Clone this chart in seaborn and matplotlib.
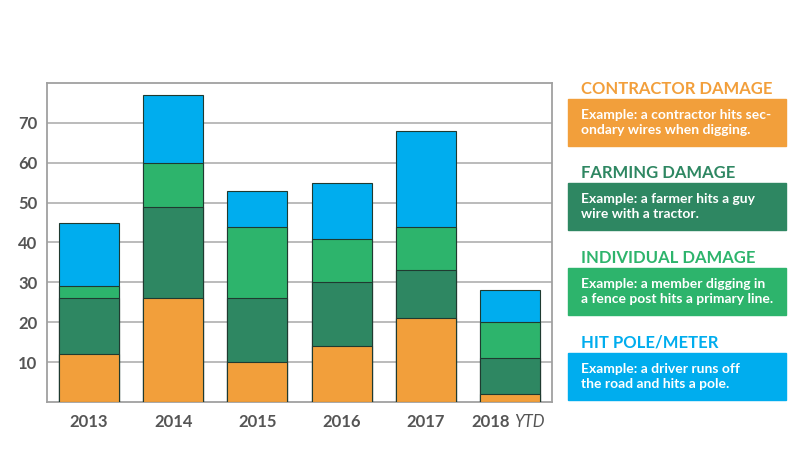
import numpy as np
import pandas as pd
import matplotlib.pyplot as plt
import seaborn as sns
from matplotlib.patches import Rectangle

sns.set_style("white")
plt.rcParams['font.family'] = ['Lato', 'DejaVu Sans']

# Data
years = ["2013", "2014", "2015", "2016", "2017", "2018"]
contractor = [12, 26, 10, 14, 21, 2]
farming = [14, 23, 16, 16, 12, 9]
individual = [3, 11, 18, 11, 11, 9]
hit_pole = [16, 17, 9, 14, 24, 8]

categories = ["CONTRACTOR DAMAGE", "FARMING DAMAGE", "INDIVIDUAL DAMAGE", "HIT POLE/METER"]
examples = [
    "Example: a contractor hits sec-\nondary wires when digging.",
    "Example: a farmer hits a guy\nwire with a tractor.",
    "Example: a member digging in\na fence post hits a primary line.",
    "Example: a driver runs off\nthe road and hits a pole.",
]
colors = ["#F29F3B", "#2E8762", "#2DB46C", "#00ADEE"]

df = pd.DataFrame({"year": years, "contractor": contractor, "farming": farming,
                   "individual": individual, "hit_pole": hit_pole})
series = ["contractor", "farming", "individual", "hit_pole"]
cum = df[series].cumsum(axis=1)

fig = plt.figure(figsize=(8, 4.53), dpi=100)
ax = fig.add_axes([0.05875, 0.1126, 0.6312, 0.7042])

# stacked bars drawn from the tallest cumulative stack down
for s, c in zip(series[::-1], colors[::-1]):
    sns.barplot(x=df["year"], y=cum[s], color=c, width=0.714, saturation=1,
                edgecolor="#1f3a30", linewidth=0.8, ax=ax, zorder=3)

ax.set_ylim(0, 80)
ax.set_xlim(-0.5, 5.5)
ax.set_yticks([10, 20, 30, 40, 50, 60, 70])
ax.yaxis.grid(True, color="#b5b5b5", linewidth=1.3, zorder=0)
ax.set_axisbelow(True)
for sp in ax.spines.values():
    sp.set_color("#a0a0a0")
    sp.set_linewidth(1.3)
ax.set_xlabel("")
ax.set_ylabel("")
ax.tick_params(axis="y", length=0, labelsize=12, labelcolor="#555555", pad=7)
ax.tick_params(axis="x", length=0, labelsize=12, labelcolor="#555555", pad=9)
for lab in ax.get_yticklabels():
    lab.set_fontweight("bold")
ax.set_xticks(range(len(years)))
ax.set_xticklabels(years[:-1] + [""], fontweight="bold")
ax.annotate(years[-1], xy=(5, 0), xycoords=ax.get_xaxis_transform(),
            xytext=(0, -9), textcoords="offset points", ha="right", va="top",
            fontsize=12, fontweight="bold", color="#555555")
ax.annotate("YTD", xy=(5, 0), xycoords=ax.get_xaxis_transform(),
            xytext=(3, -9), textcoords="offset points", ha="left", va="top",
            fontsize=12, style="italic", color="#555555")

# legend boxes on the right
box_tops = [99, 183, 268, 353]
for cat, ex, c, top in zip(categories, examples, colors, box_tops):
    y0 = 1 - (top + 47) / 453
    fig.patches.append(Rectangle((568 / 800, y0), 218 / 800, 47 / 453,
                                 transform=fig.transFigure, color=c, zorder=1))
    fig.text(581 / 800, 1 - (top - 2) / 453, cat, ha="left", va="bottom",
             fontsize=12, fontweight="bold", color=c)
    fig.text(581 / 800, 1 - (top + 23.5) / 453, ex, ha="left", va="center",
             fontsize=10, fontweight="bold", color="white", linespacing=1.35)

fig.savefig("out.png", dpi=100)
